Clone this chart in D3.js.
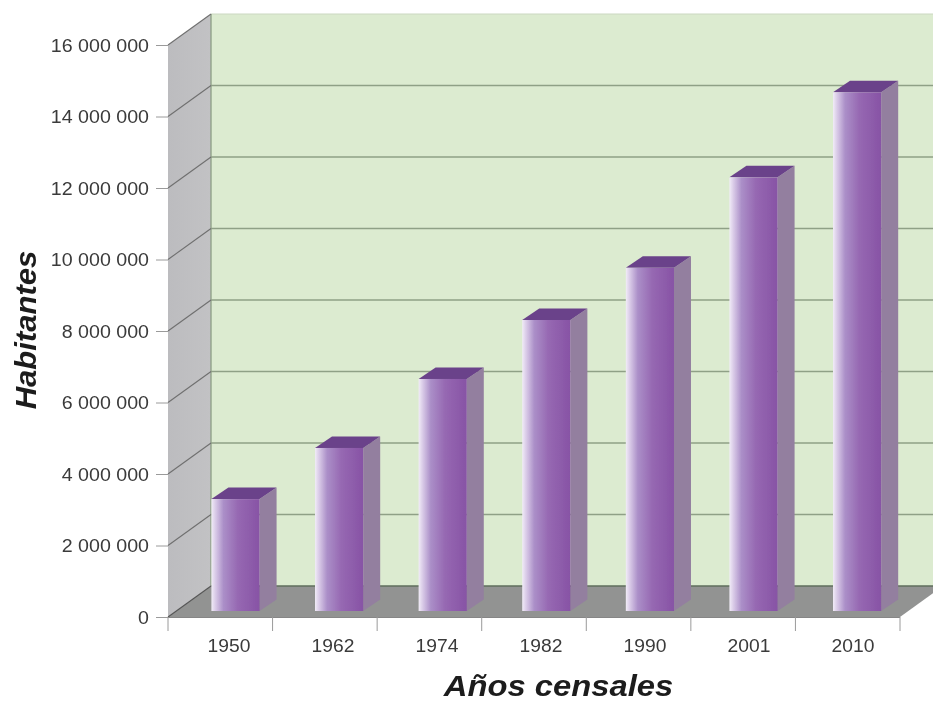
<!DOCTYPE html>
<html><head><meta charset="utf-8">
<style>html,body{margin:0;padding:0;background:#fff}svg{display:block}text{font-family:"Liberation Sans",Arial,sans-serif}</style>
<script src="https://cdn.jsdelivr.net/npm/d3@7"></script></head>
<body><svg id="c" width="933" height="702"></svg>
<script>
const years = ["1950","1962","1974","1982","1990","2001","2010"];
const habitantes = [3130000,4560000,6490000,8140000,9600000,12130000,14510000];
const yTicks = [0,2000000,4000000,6000000,8000000,10000000,12000000,14000000,16000000];
const xTitle = "Años censales";
const yTitle = "Habitantes";

const svg = d3.select("#c");
const W = 933, H = 702;
const frontX = 168, frontR = 900, backDX = 43, backDY = -31;
const y = d3.scaleLinear().domain([0,16000000]).range([617,45]);
const barY = d3.scaleLinear().domain([0,16000000]).range([611,39]);
const xTick = d3.scaleBand().domain(years).range([frontX,frontR]);
const xLabel = d3.scalePoint().domain(years).range([229,853]);
const xBar = d3.scaleBand().domain(years).range([183.7,908.9]).paddingInner(0.535).paddingOuter(0.2675);
const barDX = 17, barDY = -11.5;
const stretch = (sel,k) => sel.attr("textLength", function(){ return this.getComputedTextLength()*k; }).attr("lengthAdjust","spacingAndGlyphs");

const defs = svg.append("defs");
const g = defs.append("linearGradient").attr("id","bar");
[[0,"#f1ecf7"],[0.07,"#ddd0ea"],[0.25,"#ab8fc8"],[0.55,"#9668b2"],[1,"#8753a5"]].forEach(s=>g.append("stop").attr("offset",s[0]).attr("stop-color",s[1]));
const wg = defs.append("linearGradient").attr("id","wall");
[[0,"#bcbcbf"],[1,"#c2c2c4"]].forEach(s=>wg.append("stop").attr("offset",s[0]).attr("stop-color",s[1]));
defs.append("filter").attr("id","soft").attr("x",0).attr("y",0).attr("width",1).attr("height",1)
  .append("feGaussianBlur").attr("stdDeviation",0.6);

const root = svg.append("g").attr("filter","url(#soft)");
root.append("rect").attr("width",W).attr("height",H).attr("fill","#fff");

// back wall
root.append("rect").attr("x",frontX+backDX).attr("y",y(16000000)+backDY)
  .attr("width",W-frontX-backDX).attr("height",y(0)-y(16000000))
  .attr("fill","#dcebd0");
// left wall
root.append("path").attr("d",d3.line()([[frontX,y(0)],[frontX,y(16000000)],[frontX+backDX,y(16000000)+backDY],[frontX+backDX,y(0)+backDY]]))
  .attr("fill","url(#wall)");
// floor
root.append("path").attr("d",d3.line()([[frontX,y(0)],[frontR,y(0)],[frontR+backDX,y(0)+backDY],[frontX+backDX,y(0)+backDY]]))
  .attr("fill","#929392");
// wall edges
root.append("line").attr("x1",frontX+backDX).attr("x2",W).attr("y1",y(16000000)+backDY).attr("y2",y(16000000)+backDY).attr("stroke","#cbd8c1").attr("stroke-width",1);
root.append("line").attr("x1",frontX+backDX).attr("x2",frontX+backDX).attr("y1",y(16000000)+backDY).attr("y2",y(0)+backDY).attr("stroke","#85987f").attr("stroke-width",1.2);

// gridlines
const gridTicks = yTicks.slice(0,-1);
root.selectAll("line.grid").data(gridTicks).join("line").attr("class","grid")
  .attr("x1",frontX+backDX).attr("x2",W).attr("y1",d=>y(d)+backDY).attr("y2",d=>y(d)+backDY)
  .attr("stroke",d=>d===0?"#5f6e5c":"#8fa086").attr("stroke-width",1.5);
root.selectAll("line.diag").data(yTicks).join("line").attr("class","diag")
  .attr("x1",frontX).attr("x2",frontX+backDX).attr("y1",d=>y(d)).attr("y2",d=>y(d)+backDY)
  .attr("stroke",d=>d===0?"#555":"#6f6f6f").attr("stroke-width",1.1);

// axes
const fmt = d => d3.format(",")(d).replace(/,/g," ");
const yAxis = root.append("g").attr("transform",`translate(${frontX},0)`)
  .call(d3.axisLeft(y).tickValues(yTicks).tickFormat(fmt).tickSize(12).tickPadding(7));
yAxis.select(".domain").remove();
yAxis.selectAll("line").attr("stroke","#9a9a9a");
yAxis.selectAll("text").attr("font-size",18).attr("fill","#3a3a3a").attr("dy","0.34em").call(stretch,1.09);

const xGroup = root.append("g");
xGroup.append("line").attr("x1",frontX).attr("x2",frontR).attr("y1",y(0)+0.5).attr("y2",y(0)+0.5).attr("stroke","#868686");
xGroup.selectAll("line.t").data(years.map(d=>xTick(d)).concat([frontR])).join("line").attr("class","t")
  .attr("x1",d=>d).attr("x2",d=>d).attr("y1",y(0)).attr("y2",y(0)+14).attr("stroke","#9a9a9a");
xGroup.selectAll("text").data(years).join("text")
  .attr("x",d=>xLabel(d)).attr("y",652).attr("text-anchor","middle").attr("font-size",18).attr("fill","#3a3a3a").text(d=>d).call(stretch,1.07);

// bars
const bars = root.selectAll("g.bar").data(years.map((d,i)=>({year:d,v:habitantes[i]}))).join("g").attr("class","bar");
bars.append("path").attr("fill","#937f9f").attr("d",d=>{
  const r=xBar(d.year)+xBar.bandwidth(), t=barY(d.v), b=barY(0);
  return d3.line()([[r,t],[r+barDX,t+barDY],[r+barDX,b+barDY],[r,b]]);
});
bars.append("path").attr("fill","#6b438a").attr("d",d=>{
  const l=xBar(d.year), r=l+xBar.bandwidth(), t=barY(d.v);
  return d3.line()([[l,t],[r,t],[r+barDX,t+barDY],[l+barDX,t+barDY]]);
});
bars.append("rect").attr("fill","url(#bar)")
  .attr("x",d=>xBar(d.year)).attr("width",xBar.bandwidth())
  .attr("y",d=>barY(d.v)).attr("height",d=>barY(0)-barY(d.v));

// titles
root.append("text").attr("x",558.5).attr("y",696).attr("text-anchor","middle")
  .attr("font-size",29).attr("font-weight","bold").attr("font-style","italic").attr("fill","#1c1c1c").text(xTitle).call(stretch,1.13);
root.append("text").attr("transform","translate(35.5,330) rotate(-90)").attr("text-anchor","middle")
  .attr("font-size",29).attr("font-weight","bold").attr("font-style","italic").attr("fill","#1c1c1c").text(yTitle).call(stretch,1.07);
</script></body></html>
